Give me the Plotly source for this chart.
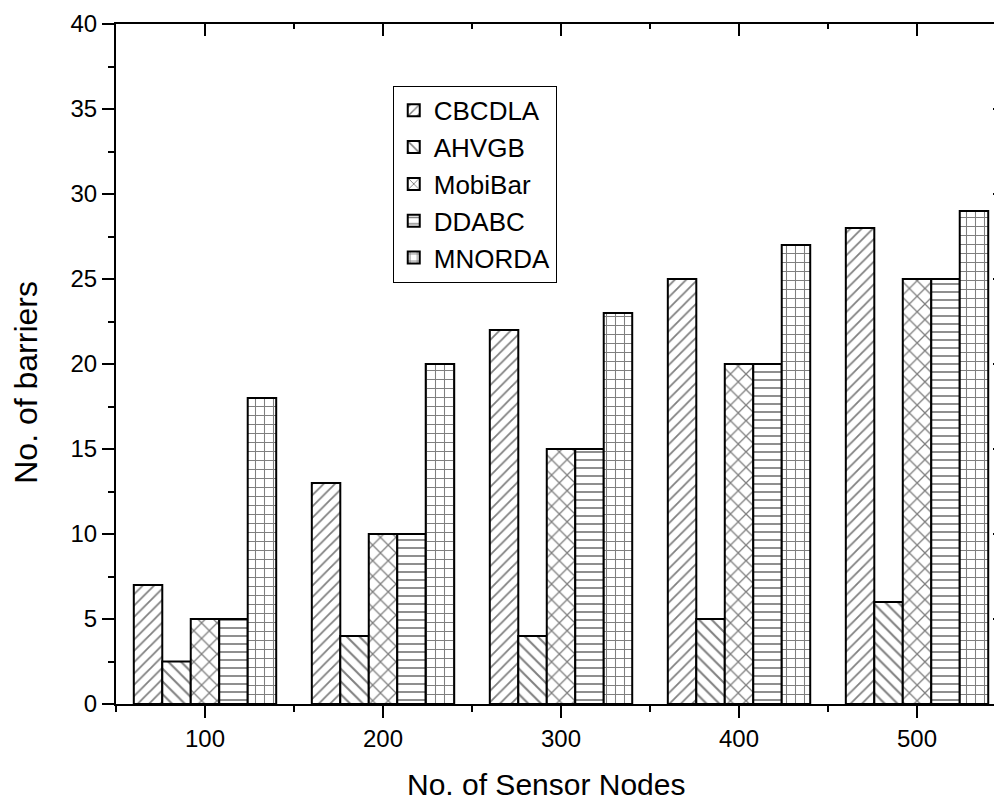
import plotly.graph_objects as go

nodes = [100, 200, 300, 400, 500]
series_names = ["CBCDLA", "AHVGB", "MobiBar", "DDABC", "MNORDA"]
cbcdla = [7, 13, 22, 25, 28]
ahvgb = [2.5, 4, 4, 5, 6]
mobibar = [5, 10, 15, 20, 25]
ddabc = [5, 10, 15, 20, 25]
mnorda = [18, 20, 23, 27, 29]

series_values = [cbcdla, ahvgb, mobibar, ddabc, mnorda]
patterns = ["/", "\\", "x", "-", "+"]
pattern_sizes = [8, 9, 11, 8, 9]

FONT = "Liberation Sans, Arial, sans-serif"

fig = go.Figure()

for name, vals, shape, size in zip(series_names, series_values, patterns, pattern_sizes):
    fig.add_trace(
        go.Bar(
            x=nodes,
            y=vals,
            name=name,
            legendgroup=name,
            marker=dict(
                color="white",
                line=dict(color="black", width=2),
                pattern=dict(shape=shape, fgcolor="black", bgcolor="white",
                             size=size, solidity=0.22),
            ),
        )
    )

# dummy trace so the mirrored (top/right) axes get drawn
fig.add_trace(go.Scatter(x=[None], y=[None], xaxis="x2", yaxis="y2",
                         showlegend=False, hoverinfo="skip"))

x_range = [50, 548.3]
y_range = [0, 40]
y_ticks = [0, 5, 10, 15, 20, 25, 30, 35, 40]
x_minor = [50, 150, 250, 350, 450]

common = dict(
    tickwidth=2,
    tickcolor="black",
    showline=True,
    linecolor="black",
    linewidth=2,
    showgrid=False,
    zeroline=False,
    automargin=False,
)

fig.update_layout(
    width=1002,
    height=802,
    margin=dict(l=108, r=7, t=16, b=106),
    plot_bgcolor="white",
    paper_bgcolor="white",
    font=dict(family=FONT, color="black", size=24),
    barmode="group",
    bargap=0.2,
    bargroupgap=0,
    xaxis=dict(
        range=x_range,
        tickvals=nodes,
        ticks="outside",
        ticklen=12,
        tickfont=dict(size=24),
        minor=dict(tickvals=x_minor, ticks="outside",
                   ticklen=6, tickwidth=2, tickcolor="black"),
        **common,
    ),
    yaxis=dict(
        range=y_range,
        tickvals=y_ticks,
        ticks="outside",
        ticklen=12,
        tickfont=dict(size=24),
        minor=dict(dtick=2.5, ticks="outside", ticklen=6, tickwidth=2,
                   tickcolor="black"),
        **common,
    ),
    xaxis2=dict(
        overlaying="x",
        side="top",
        range=x_range,
        tickvals=nodes,
        ticks="inside",
        ticklen=12,
        showticklabels=False,
        minor=dict(tickvals=x_minor, ticks="inside",
                   ticklen=5, tickwidth=2, tickcolor="black"),
        **common,
    ),
    yaxis2=dict(
        overlaying="y",
        side="right",
        range=y_range,
        tickvals=y_ticks,
        ticks="inside",
        ticklen=10,
        showticklabels=False,
        minor=dict(dtick=2.5, ticks="inside", ticklen=4, tickwidth=2,
                   tickcolor="black"),
        **common,
    ),
    legend=dict(
        x=0.312,
        y=0.909,
        xanchor="left",
        yanchor="top",
        bgcolor="white",
        bordercolor="black",
        borderwidth=1,
        font=dict(size=26),
        tracegroupgap=10,
        traceorder="normal",
    ),
)

# axis titles
fig.add_annotation(text="No. of Sensor Nodes", xref="paper", yref="paper",
                   x=0.485, y=-0.119, xanchor="center", yanchor="middle",
                   showarrow=False, font=dict(size=30))
fig.add_annotation(text="No. of barriers", xref="paper", yref="paper",
                   x=-0.101, y=0.473, xanchor="center", yanchor="middle",
                   textangle=-90, showarrow=False, font=dict(size=32))

fig.write_html("out.html")
